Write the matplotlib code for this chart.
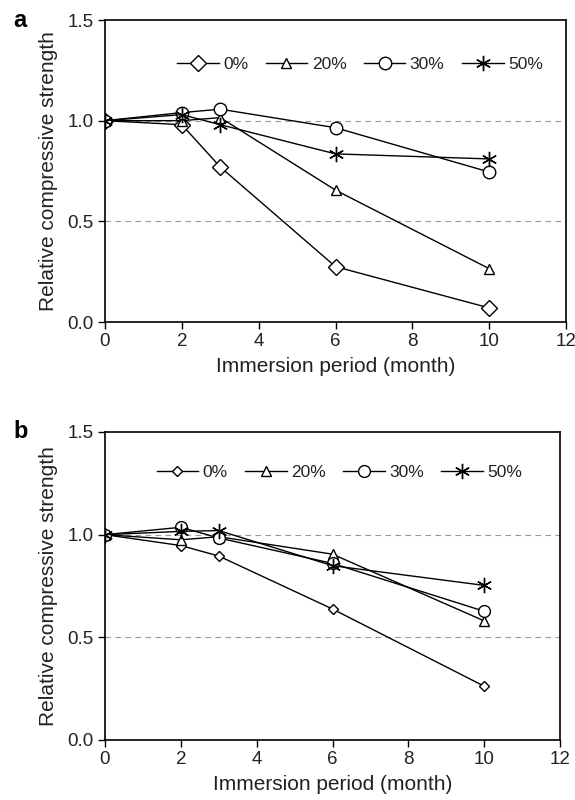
import matplotlib
matplotlib.use("Agg")
import matplotlib.pyplot as plt

months = [0, 2, 3, 6, 10]
series_labels = ["0%", "20%", "30%", "50%"]

a_0 = [1.0, 0.98, 0.77, 0.275, 0.07]
a_20 = [1.0, 1.0, 1.015, 0.655, 0.265]
a_30 = [1.0, 1.04, 1.057, 0.965, 0.745]
a_50 = [1.0, 1.03, 0.98, 0.835, 0.81]

b_0 = [1.0, 0.947, 0.896, 0.638, 0.262]
b_20 = [1.0, 0.975, 0.99, 0.905, 0.58]
b_30 = [1.0, 1.036, 0.984, 0.86, 0.627]
b_50 = [1.0, 1.016, 1.02, 0.849, 0.753]

xticks = [0, 2, 4, 6, 8, 10, 12]
yticks = [0.0, 0.5, 1.0, 1.5]

plt.rcParams['font.family'] = ['Liberation Sans', 'DejaVu Sans']
plt.rcParams['text.color'] = '#222222'
plt.rcParams['axes.labelcolor'] = '#222222'
plt.rcParams['xtick.labelcolor'] = '#222222'
plt.rcParams['ytick.labelcolor'] = '#222222'

fig = plt.figure(figsize=(5.75, 8), dpi=100)
ax_a = fig.add_axes([105/575, 1-322/800, (566-105)/575, (322-20)/800])
ax_b = fig.add_axes([105/575, 1-740/800, (560-105)/575, (740-432)/800])

def draw(ax, data, msizes, letter, leg_x, leg_y):
    markers = ['D', '^', 'o', (6, 2, 0)]
    for vals, lab, m, ms in zip(data, series_labels, markers, msizes):
        ax.plot(months, vals, color='black', lw=1.0, marker=m, markersize=ms,
                markerfacecolor='white', markeredgecolor='black',
                markeredgewidth=1.0, label=lab)
    ax.set_xlim(0, 12)
    ax.set_ylim(0, 1.5)
    ax.set_xticks(xticks)
    ax.set_yticks(yticks)
    ax.set_yticklabels([f"{v:.1f}" for v in yticks])
    for yv in [0.5, 1.0]:
        ax.axhline(yv, color='#999999', lw=0.8, ls=(0, (5, 4)), zorder=0)
    ax.tick_params(direction='out', length=5, width=1, labelsize=13.5, pad=3)
    for s in ax.spines.values():
        s.set_linewidth(1.2)
    ax.set_xlabel("Immersion period (month)", fontsize=15, labelpad=5)
    ax.set_ylabel("Relative compressive strength", fontsize=15, labelpad=7)
    ax.legend(loc='upper center', bbox_to_anchor=(leg_x, leg_y), ncol=4,
              frameon=False, fontsize=12.5, handlelength=2.4,
              handletextpad=0.25, columnspacing=1.0, borderaxespad=0)
    ax.text(-0.17, 1.0, letter, transform=ax.transAxes, fontsize=17,
            fontweight='bold', ha='right', va='center', color='black')

draw(ax_a, [a_0, a_20, a_30, a_50], [8, 7, 9, 11], 'a', 0.553, 0.90)
draw(ax_b, [b_0, b_20, b_30, b_50], [5.5, 7, 8.5, 11], 'b', 0.515, 0.915)

fig.savefig("out.png", dpi=100)
